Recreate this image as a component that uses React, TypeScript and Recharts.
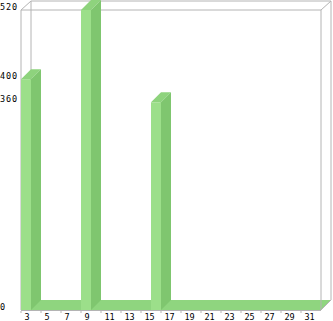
import { BarChart, Bar, XAxis, YAxis } from "recharts";

const days = [3, 4, 5, 6, 7, 8, 9, 10, 11, 12, 13, 14, 15, 16, 17, 18, 19, 20, 21, 22, 23, 24, 25, 26, 27, 28, 29, 30, 31, 32];
const counts = [400, 0, 0, 0, 0, 0, 520, 0, 0, 0, 0, 0, 0, 360, 0, 0, 0, 0, 0, 0, 0, 0, 0, 0, 0, 0, 0, 0, 0, 0];
const yTicks = [0, 360, 400, 520];

const data = days.map((day, i) => ({ day, count: counts[i] }));

const W = 333;
const H = 321;
const M = { top: 10, right: 12, left: 0, bottom: 0 };
const Y_AXIS_W = 21;
const X_AXIS_H = 11;
const DEPTH = 10;

const FRONT = "#9cdf8a";
const SIDE = "#7fc66f";
const TOP = "#8ed37d";
const FLOOR = "#8fd57f";
const FRAME = "#b4b4b4";
const FONT = "'DejaVu Sans Mono', monospace";

// plot box in pixels, derived from the margins above
const L = M.left + Y_AXIS_W;
const R = W - M.right;
const T = M.top;
const B = H - M.bottom - X_AXIS_H;

const Bar3D = (props: any) => {
  const { x, y, width, height } = props;
  if (!height || height <= 0) return null;
  const d = DEPTH;
  return (
    <g>
      <rect x={x} y={y} width={width} height={height} fill={FRONT} />
      <polygon
        points={`${x},${y} ${x + d},${y - d} ${x + width + d},${y - d} ${x + width},${y}`}
        fill={TOP}
      />
      <polygon
        points={`${x + width},${y} ${x + width + d},${y - d} ${x + width + d},${y + height - d} ${x + width},${y + height}`}
        fill={SIDE}
      />
    </g>
  );
};

const XTick = (props: any) => {
  const { x, payload } = props;
  const band = (R - L) / days.length;
  return (
    <g>
      <line x1={x - band / 2} y1={B + 1} x2={x - band / 2} y2={B + 3} stroke={FRAME} />
      <text x={x - 1.5} y={B + 10} textAnchor="start" fontFamily={FONT} fontSize={8.5} fill="#000">
        {payload.value}
      </text>
    </g>
  );
};

const YTick = (props: any) => {
  const { y, payload } = props;
  return (
    <text x={0} y={y} textAnchor="start" fontFamily={FONT} fontSize={8.5} letterSpacing={0.9} fill="#000">
      {payload.value}
    </text>
  );
};

const Backdrop = () => {
  const d = DEPTH;
  return (
    <g>
      <polygon points={`${L},${B} ${L + d},${B - d} ${R + d},${B - d} ${R},${B}`} fill={FLOOR} />
      <g stroke={FRAME} strokeWidth={1} fill="none">
        <line x1={L + d} y1={T - d + 1} x2={R + d} y2={T - d + 1} />
        <line x1={L + d} y1={T - d + 1} x2={L + d} y2={B - d} />
        <line x1={R + d} y1={T - d + 1} x2={R + d} y2={B - d} />
        <line x1={L} y1={T} x2={L + d} y2={T - d + 1} />
        <line x1={R} y1={T} x2={R + d} y2={T - d + 1} />
        <line x1={R} y1={B} x2={R + d} y2={B - d} />
        <line x1={L} y1={T} x2={R} y2={T} />
        <line x1={L} y1={T} x2={L} y2={B} />
        <line x1={R} y1={T} x2={R} y2={B} />
        <line x1={L} y1={B + 0.5} x2={R} y2={B + 0.5} />
      </g>
    </g>
  );
};

export default function App() {
  return (
    <div style={{ width: W, height: H, background: "#fff" }}>
      <style>{`body{margin:0}`}</style>
      <BarChart width={W} height={H} data={data} margin={M} barCategoryGap={0}>
        <Backdrop />
        <XAxis
          dataKey="day"
          height={X_AXIS_H}
          interval={1}
          axisLine={false}
          tickLine={false}
          tick={<XTick />}
        />
        <YAxis
          width={Y_AXIS_W}
          domain={[0, 520]}
          ticks={yTicks}
          axisLine={false}
          tickLine={false}
          tick={<YTick />}
        />
        <Bar dataKey="count" shape={<Bar3D />} isAnimationActive={false} />
      </BarChart>
    </div>
  );
}
